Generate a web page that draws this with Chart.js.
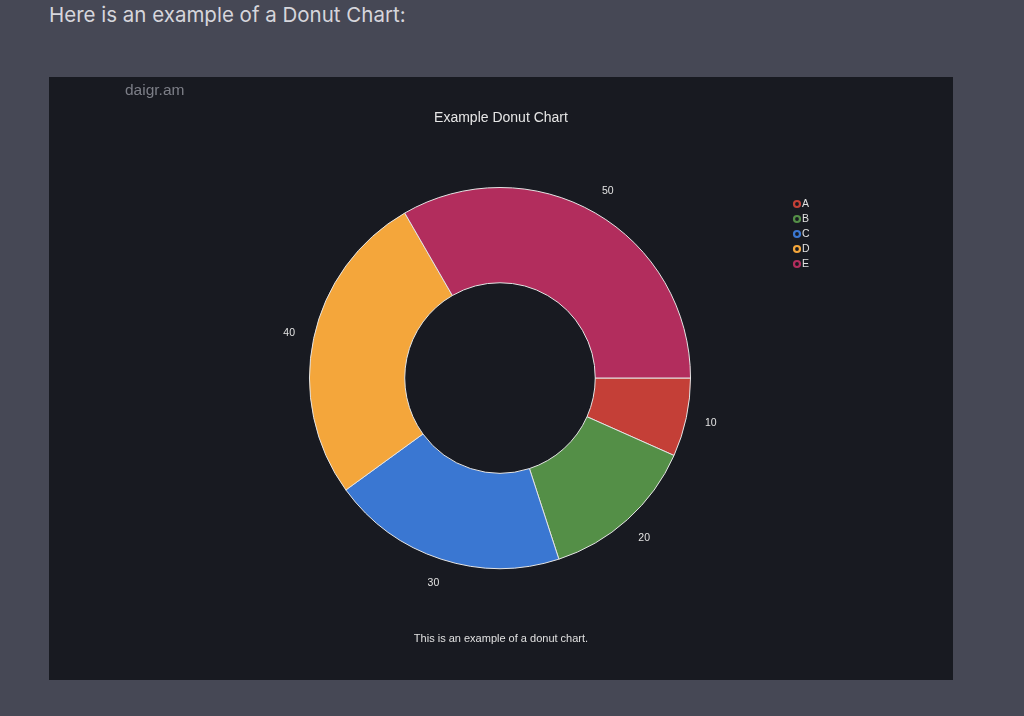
<!DOCTYPE html>
<html>
<head>
<meta charset="utf-8">
<script src="https://cdn.jsdelivr.net/npm/chart.js@4.4.0/dist/chart.umd.min.js"></script>
<style>
  html, body { margin: 0; padding: 0; }
  body { width: 1024px; height: 716px; background: #464855; overflow: hidden; position: relative; font-family: "Liberation Sans", Arial, sans-serif; }
  #header { position: absolute; left: 49px; top: 2px; font: 20.5px Inter, "Noto Sans", sans-serif; color: #d6d6dc; }
  #panel { position: absolute; left: 49px; top: 77px; width: 904px; height: 603px; background: #181a21; }
  #brand { position: absolute; left: 76px; top: 4px; font-size: 15.5px; color: #7c7e87; }
  #title { position: absolute; left: 0; width: 904px; top: 32px; text-align: center; font-size: 14px; color: #e6e6e6; }
  #caption { position: absolute; left: 0; width: 904px; top: 555px; text-align: center; font-size: 11px; color: #e0e0e0; }
  #wrap { position: absolute; left: 0; top: 0; width: 904px; height: 603px; }
</style>
</head>
<body>
<div id="header">Here is an example of a Donut Chart:</div>
<div id="panel">
  <div id="wrap"><canvas id="donutChart"></canvas></div>
  <div id="brand">daigr.am</div>
  <div id="title">Example Donut Chart</div>
  <div id="caption">This is an example of a donut chart.</div>
</div>
<script>
// === DATA ===
const categories = ["A", "B", "C", "D", "E"];
const values = [10, 20, 30, 40, 50];
const sliceColors = ["#c43f37", "#548f47", "#3a77d2", "#f4a63b", "#b22d5d"];

// value labels just outside each slice
const outsideLabels = {
  id: "outsideLabels",
  afterDatasetsDraw(chart) {
    const ctx = chart.ctx;
    const meta = chart.getDatasetMeta(0);
    ctx.save();
    ctx.font = '10.5px "Liberation Sans", Arial, sans-serif';
    ctx.fillStyle = "#e2e2e2";
    ctx.textAlign = "center";
    ctx.textBaseline = "middle";
    meta.data.forEach((arc, i) => {
      const p = arc.getProps(["x", "y", "startAngle", "endAngle", "outerRadius"], true);
      const mid = (p.startAngle + p.endAngle) / 2;
      const r = p.outerRadius + 25;
      ctx.fillText(String(chart.data.datasets[0].data[i]), p.x + Math.cos(mid) * r, p.y + Math.sin(mid) * r);
    });
    ctx.restore();
  }
};

// small legend with hollow circle markers, top right
const ringLegend = {
  id: "ringLegend",
  afterDraw(chart) {
    const ctx = chart.ctx;
    const ds = chart.data.datasets[0];
    ctx.save();
    ctx.font = '10.5px "Liberation Sans", Arial, sans-serif';
    ctx.textBaseline = "middle";
    chart.data.labels.forEach((lab, i) => {
      const y = 127 + i * 15;
      ctx.beginPath();
      ctx.arc(748, y, 3, 0, Math.PI * 2);
      ctx.lineWidth = 2.2;
      ctx.strokeStyle = ds.backgroundColor[i];
      ctx.stroke();
      ctx.fillStyle = "#e0e0e0";
      ctx.fillText(lab, 753, y);
    });
    ctx.restore();
  }
};

new Chart(document.getElementById("donutChart"), {
  type: "doughnut",
  data: {
    labels: categories,
    datasets: [
      {
        data: values,
        backgroundColor: sliceColors,
        borderColor: "#e4e4e4",
        borderWidth: 1,
        hoverOffset: 0
      }
    ]
  },
  options: {
    responsive: true,
    maintainAspectRatio: false,
    animation: false,
    rotation: 90,
    cutout: "50%",
    layout: { padding: { left: 260, right: 262, top: 110, bottom: 111 } },
    plugins: {
      legend: { display: false },
      tooltip: { enabled: false }
    }
  },
  plugins: [outsideLabels, ringLegend]
});
</script>
</body>
</html>
